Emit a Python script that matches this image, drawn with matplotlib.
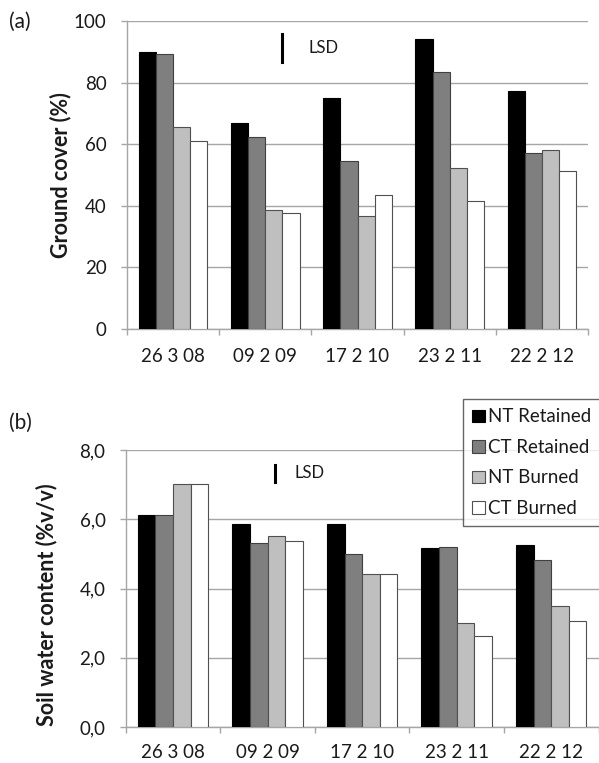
import matplotlib
matplotlib.use("Agg")
import matplotlib.pyplot as plt
import numpy as np
from matplotlib.ticker import FuncFormatter

plt.rcParams['font.family'] = ['Lato', 'DejaVu Sans']

dates = ["26 3 08", "09 2 09", "17 2 10", "23 2 11", "22 2 12"]
series = ["NT Retained", "CT Retained", "NT Burned", "CT Burned"]

ground_cover = {
    "NT Retained": [89.8, 67.0, 74.9, 94.3, 77.3],
    "CT Retained": [89.4, 62.3, 54.7, 83.4, 57.2],
    "NT Burned":   [65.5, 38.6, 36.6, 52.4, 58.0],
    "CT Burned":   [61.2, 37.8, 43.4, 41.5, 51.4],
}
soil_water = {
    "NT Retained": [6.11, 5.85, 5.87, 5.16, 5.27],
    "CT Retained": [6.11, 5.30, 5.01, 5.20, 4.81],
    "NT Burned":   [7.01, 5.52, 4.43, 3.00, 3.49],
    "CT Burned":   [7.01, 5.37, 4.43, 2.64, 3.05],
}
lsd_top = (86.6, 95.7)
lsd_bottom = (7.08, 7.57)

colors = ["#000000", "#7f7f7f", "#bfbfbf", "#ffffff"]
edges = ["#000000", "#404040", "#505050", "#505050"]
grid_c = "#a6a6a6"
txt_c = "#1a1a1a"

W, H = 599, 763
fig = plt.figure(figsize=(W/100, H/100), dpi=100)

def px_axes(l, r, t, b):
    return fig.add_axes([l/W, 1 - b/H, (r-l)/W, (b-t)/H])

ax1 = px_axes(126.7, 588.3, 21, 329)
ax2 = px_axes(125.7, 598.5, 450, 727)

bw = 0.186
x = np.arange(len(dates))

def draw(ax, data, ylim, yticks, fmt, label, lx, ly, lsd, lsd_x, lsd_tx, tickpad):
    for i, s in enumerate(series):
        ax.bar(x + (i - 1.5) * bw, data[s], width=bw, color=colors[i],
               edgecolor=edges[i], linewidth=0.8, zorder=3, label=s)
    ax.set_xlim(-0.5, len(dates) - 0.5)
    ax.set_ylim(*ylim)
    ax.set_yticks(yticks)
    ax.yaxis.set_major_formatter(FuncFormatter(fmt))
    ax.set_xticks(x)
    ax.set_xticklabels(dates)
    ax.set_xticks(np.arange(len(dates) + 1) - 0.5, minor=True)
    ax.tick_params(axis='x', which='major', length=0, pad=tickpad, labelsize=13.5, labelcolor=txt_c)
    ax.tick_params(axis='x', which='minor', length=4, color=grid_c, width=1)
    ax.tick_params(axis='y', length=4.5, color=grid_c, width=1, pad=10, labelsize=13.5, labelcolor=txt_c)
    ax.grid(axis='y', color=grid_c, linewidth=1, zorder=0)
    for sp in ['top', 'right']:
        ax.spines[sp].set_visible(False)
    for sp in ['left', 'bottom']:
        ax.spines[sp].set_color(grid_c)
        ax.spines[sp].set_linewidth(1)
    ax.set_ylabel(label, fontsize=15.5, fontweight='bold', color=txt_c)
    ax.yaxis.set_label_coords(lx, ly)
    ax.plot([lsd_x, lsd_x], lsd, color='black', linewidth=2.2, zorder=4)
    ax.text(lsd_tx, (lsd[0] + lsd[1]) / 2, "LSD", fontsize=12, color=txt_c, va='center', ha='left')

draw(ax1, ground_cover, (0, 100), [0, 20, 40, 60, 80, 100], lambda v, p: f"{v:.0f}",
     "Ground cover (%)", -0.1207, 0.5, lsd_top, 1.187, 1.47, 14)
draw(ax2, soil_water, (0, 8), [0, 2, 4, 6, 8], lambda v, p: f"{v:.1f}".replace('.', ','),
     "Soil water content (%v/v)", -0.1455, 0.44, lsd_bottom, 1.08, 1.28, 12.5)

fig.text(9/W, 1 - 22/H, "(a)", fontsize=15, color=txt_c, va='center', ha='left')
fig.text(9/W, 1 - 423/H, "(b)", fontsize=15, color=txt_c, va='center', ha='left')

handles, labels = ax2.get_legend_handles_labels()
leg = fig.legend(handles, labels, loc='upper left', bbox_to_anchor=(463/W, 1 - 399/H),
                 fontsize=13.5, frameon=True, fancybox=False, edgecolor='#404040',
                 handlelength=0.65, handleheight=0.65, handletextpad=0.2,
                 labelspacing=0.72, borderpad=0.5, borderaxespad=0)
leg.get_frame().set_linewidth(1)
for t in leg.get_texts():
    t.set_color(txt_c)

fig.savefig("out.png", dpi=100)
